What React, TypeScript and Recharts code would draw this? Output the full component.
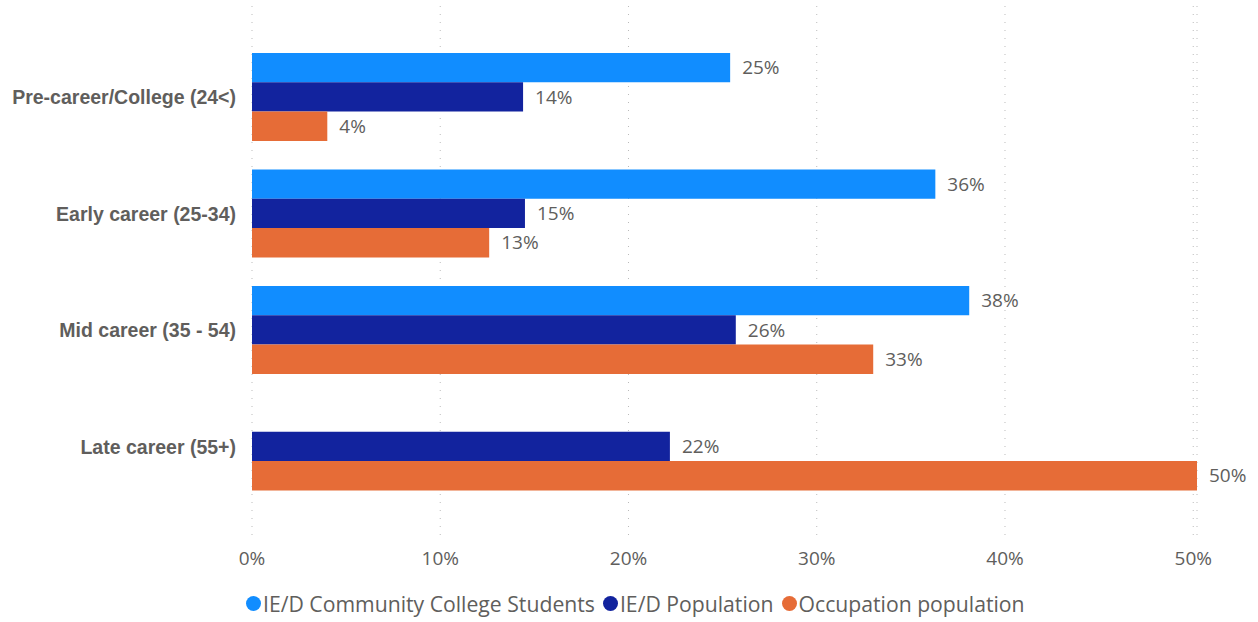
import { BarChart, Bar, XAxis, YAxis, CartesianGrid, Legend, LabelList } from "recharts";

const categories = ["Pre-career/College (24<)", "Early career (25-34)", "Mid career (35 - 54)", "Late career (55+)"];
const collegeStudents = [25.4, 36.3, 38.1, null];
const iedPopulation = [14.4, 14.5, 25.7, 22.2];
const occupationPopulation = [4.0, 12.6, 33.0, 50.2];
const xTicks = [0, 10, 20, 30, 40, 50];

const seriesNames = ["IE/D Community College Students", "IE/D Population", "Occupation population"];
const colors = ["#118DFF", "#12239E", "#E66C37"];

const data = categories.map((name, i) => ({
    name,
    college: collegeStudents[i],
    ied: iedPopulation[i],
    occupation: occupationPopulation[i],
}));

const font = "'Segoe UI', 'Open Sans', sans-serif";
const boldFont = "'Liberation Sans', Arial, sans-serif";
const textColor = "#605E5C";

const pct = (v: any) => (v == null ? "" : `${Math.round(v)}%`);

function LegendContent() {
    return (
        <div style={{ display: "flex", alignItems: "center", height: 30, paddingLeft: 246, fontFamily: font, fontSize: 21.2, color: textColor, whiteSpace: "nowrap" }}>
            {seriesNames.map((s, i) => (
                <div key={s} style={{ display: "flex", alignItems: "center", marginRight: 8 }}>
                    <span style={{ width: 15, height: 15, borderRadius: 8, background: colors[i], display: "inline-block", marginRight: 2 }} />
                    <span>{s}</span>
                </div>
            ))}
        </div>
    );
}

const labelStyle = { fill: textColor, fontSize: 19, fontFamily: font };

export default function App() {
    return (
        <div style={{ position: "absolute", left: 0, top: 0, width: 1258, height: 622, background: "#fff" }}>
            <BarChart
                width={1258}
                height={622}
                data={data}
                layout="vertical"
                margin={{ top: 6, right: 61, bottom: 4, left: 0 }}
                barSize={29.3}
                barGap={0}
            >
                <CartesianGrid horizontal={false} strokeDasharray="1 7" stroke="#bbbbbb" />
                <XAxis
                    type="number"
                    domain={[0, "dataMax"]}
                    ticks={xTicks}
                    tickFormatter={(v) => `${v}%`}
                    axisLine={false}
                    tickLine={false}
                    tickSize={0}
                    tickMargin={12}
                    height={48}
                    tick={{ fill: textColor, fontSize: 19, fontFamily: font }}
                />
                <YAxis
                    type="category"
                    dataKey="name"
                    width={252}
                    axisLine={false}
                    tickLine={false}
                    tickSize={0}
                    tickMargin={16}
                    padding={{ top: 33, bottom: 35 }}
                    tick={{ fill: textColor, fontSize: 19.5, fontWeight: "bold", fontFamily: boldFont }}
                />
                <Legend verticalAlign="bottom" wrapperStyle={{ left: 0, width: 1258 }} content={<LegendContent />} />
                <Bar dataKey="college" name={seriesNames[0]} fill={colors[0]} isAnimationActive={false}>
                    <LabelList dataKey="college" position="right" offset={12} formatter={pct} style={labelStyle} />
                </Bar>
                <Bar dataKey="ied" name={seriesNames[1]} fill={colors[1]} isAnimationActive={false}>
                    <LabelList dataKey="ied" position="right" offset={12} formatter={pct} style={labelStyle} />
                </Bar>
                <Bar dataKey="occupation" name={seriesNames[2]} fill={colors[2]} isAnimationActive={false}>
                    <LabelList dataKey="occupation" position="right" offset={12} formatter={pct} style={labelStyle} />
                </Bar>
            </BarChart>
        </div>
    );
}
